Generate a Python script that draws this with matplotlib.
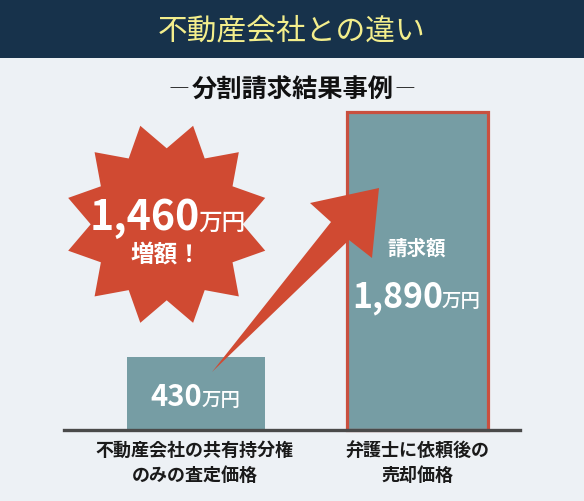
import numpy as np
import matplotlib
matplotlib.use('Agg')
import matplotlib.pyplot as plt
from matplotlib.patches import Polygon, Rectangle

plt.rcParams['font.family'] = ['Noto Sans CJK JP', 'DejaVu Sans']

categories = ['不動産会社の共有持分権\nのみの査定価格', '弁護士に依頼後の\n売却価格']
values = [430, 1890]
increase = 1460
unit = '万円'
title = '不動産会社との違い'
subtitle = '分割請求結果事例'

W, H = 584, 501
bg = '#edf1f5'
navy = '#17324b'
teal = '#769da4'
red = '#d04a32'

fig = plt.figure(figsize=(W / 100, H / 100), dpi=100, facecolor=bg)

# bars
ax = fig.add_axes([64 / W, 1 - 429.5 / H, (520 - 64) / W, (429.5 - 112) / H])
ax.set_facecolor('none')
ax.bar([0], values[0], width=138 / 221, color=teal, zorder=2)
ax.bar([1], values[1], width=141 / 221, color=teal, edgecolor='#c9503f', linewidth=2.3,
       zorder=2, clip_on=False)
ax.set_xlim((64 - 196) / 221, (520 - 196) / 221)
ax.set_ylim(0, values[1])
ax.set_yticks([])
ax.set_xticks([-0.005, 1])
ax.set_xticklabels(categories, fontsize=13, fontweight='bold', color='#1a1a1a', linespacing=1.42)
ax.tick_params(axis='x', length=0, pad=8)
for s in ['top', 'left', 'right']:
    ax.spines[s].set_visible(False)
ax.spines['bottom'].set_linewidth(2.4)
ax.spines['bottom'].set_color('#4a4a4a')
ax.spines['bottom'].set_zorder(3)

# overlay in pixel coordinates
ov = fig.add_axes([0, 0, 1, 1], facecolor='none')
ov.set_xlim(0, W)
ov.set_ylim(H, 0)
ov.axis('off')

ov.add_patch(Rectangle((0, 0), W, 58, color=navy, lw=0))
ov.text(292, 31, title, fontsize=21.4, color='#f3ee8c', ha='center', va='center')
ov.text(292.5, 90.5, subtitle, fontsize=18.2, color='#111111', fontweight='bold', ha='center', va='center')
ov.text(179, 90, '―', fontsize=15, color='#222222', ha='center', va='center')
ov.text(404.5, 90, '―', fontsize=15, color='#222222', ha='center', va='center')

# star
n = 12
cx, cy = 166.7, 224.3
ang = np.deg2rad(np.arange(2 * n) * 15)
rad = np.where(np.arange(2 * n) % 2 == 1, 102, 76)
ov.add_patch(Polygon(np.c_[cx + rad * np.sin(ang), cy - rad * np.cos(ang)], color=red, lw=0, zorder=3))

# arrow
ov.add_patch(Polygon([(212, 372), (331, 222), (310, 203), (379, 188), (372, 258), (349, 240)],
                     color=red, lw=0, zorder=3))


def money(x_end, y, v, size, unit_size):
    # number and unit share a baseline, right end at x_end
    t = ov.text(x_end, y, unit, fontsize=unit_size, color='white', ha='right', va='baseline',
                fontweight='medium', zorder=4)
    w = t.get_window_extent(fig.canvas.get_renderer()).width
    ov.text(x_end - w + 1, y, f'{v:,}', fontsize=size, color='white', ha='right', va='baseline',
            fontweight='bold', zorder=4)


money(246, 230, increase, 29.6, 17)
ov.text(166, 255, '増額！', fontsize=17, color='white', fontweight='bold', ha='center', va='center', zorder=4)
money(240, 406, values[0], 21, 14)
ov.text(417, 249, '請求額', fontsize=14, color='white', fontweight='bold', ha='center', va='center', zorder=4)
money(481, 307, values[1], 24.4, 14)

fig.savefig('out.png', dpi=100, facecolor=bg)
